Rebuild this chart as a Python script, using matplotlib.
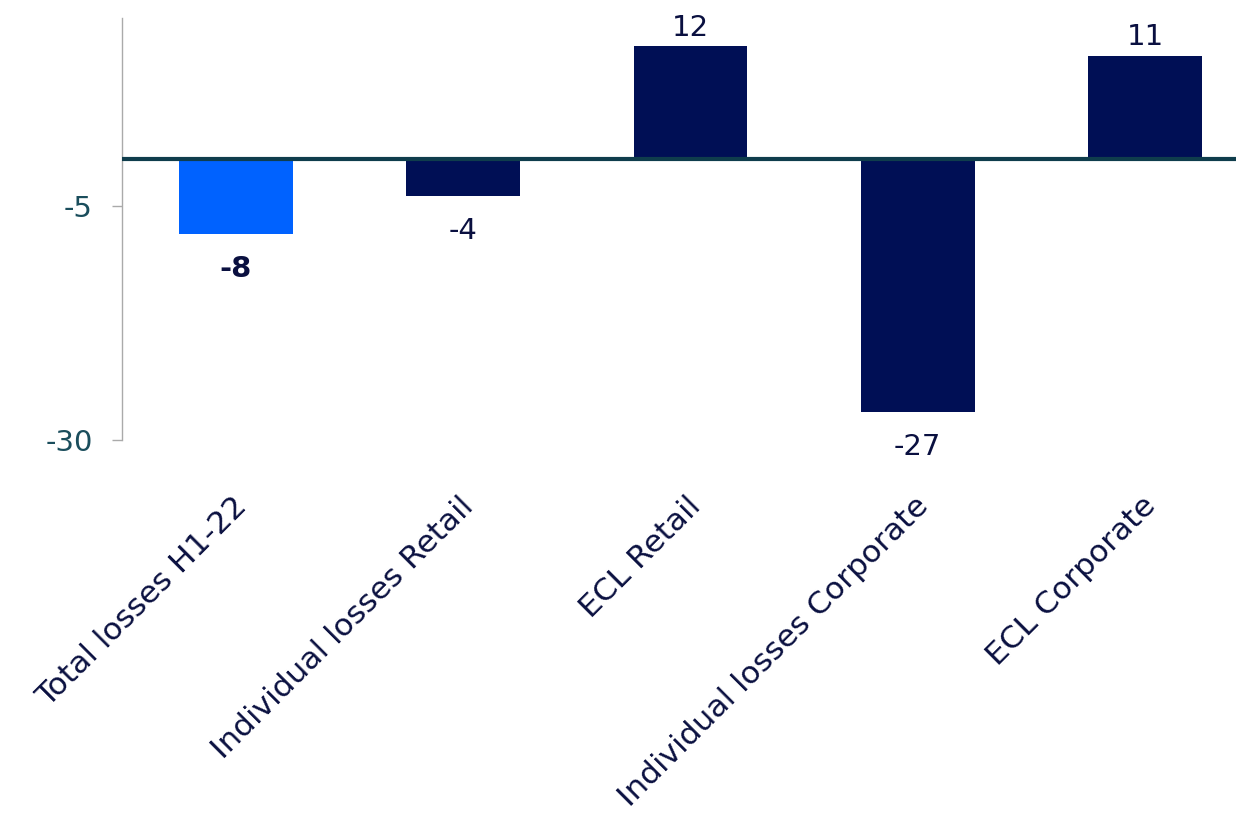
import matplotlib.pyplot as plt
import matplotlib.transforms as mtransforms

categories = ["Total losses H1-22", "Individual losses Retail", "ECL Retail",
              "Individual losses Corporate", "ECL Corporate"]
values = [-8, -4, 12, -27, 11]
colors = ["#0062FF", "#000F55", "#000F55", "#000F55", "#000F55"]

plt.rcParams['font.family'] = ['DejaVu Sans']

fig = plt.figure(figsize=(12.36, 8.23), dpi=100)
ax = fig.add_axes([0.0987, 0.4654, 0.9013, 0.5126])

x = range(len(categories))
bars = ax.bar(x, values, width=0.5, color=colors, zorder=2)
ax.axhline(0, color="#0F3D4C", lw=3, zorder=3)

ax.set_xlim(-0.5, 4.4)
ax.set_ylim(-30, 15)
ax.set_yticks([-5, -30])
ax.set_yticklabels(["-5", "-30"], fontsize=21, color="#1A4D5C")
ax.tick_params(axis="y", length=7, color="#AAAAAA", width=1, pad=14)
ax.tick_params(axis="x", length=0, pad=37)
ax.set_xticks(list(x))
ax.set_xticklabels(categories, rotation=45, ha="right", rotation_mode="anchor",
                   fontsize=22.5, color="#0A1040")
shift = mtransforms.ScaledTranslation(-4 / 100, 0, fig.dpi_scale_trans)
for lbl in ax.get_xticklabels():
    lbl.set_transform(lbl.get_transform() + shift)

for s in ["top", "right", "bottom"]:
    ax.spines[s].set_visible(False)
ax.spines["left"].set_color("#AAAAAA")
ax.spines["left"].set_linewidth(1)

for i, v in enumerate(values):
    if v >= 0:
        ax.annotate(str(v), (i, v), xytext=(0, 3), textcoords="offset points",
                    ha="center", va="bottom", fontsize=21, color="#0A1040")
    else:
        ax.annotate(str(v), (i, v), xytext=(0, -15), textcoords="offset points",
                    ha="center", va="top", fontsize=21, color="#0A1040",
                    fontweight="bold" if i == 0 else "normal")

fig.savefig("out.png", dpi=100)
